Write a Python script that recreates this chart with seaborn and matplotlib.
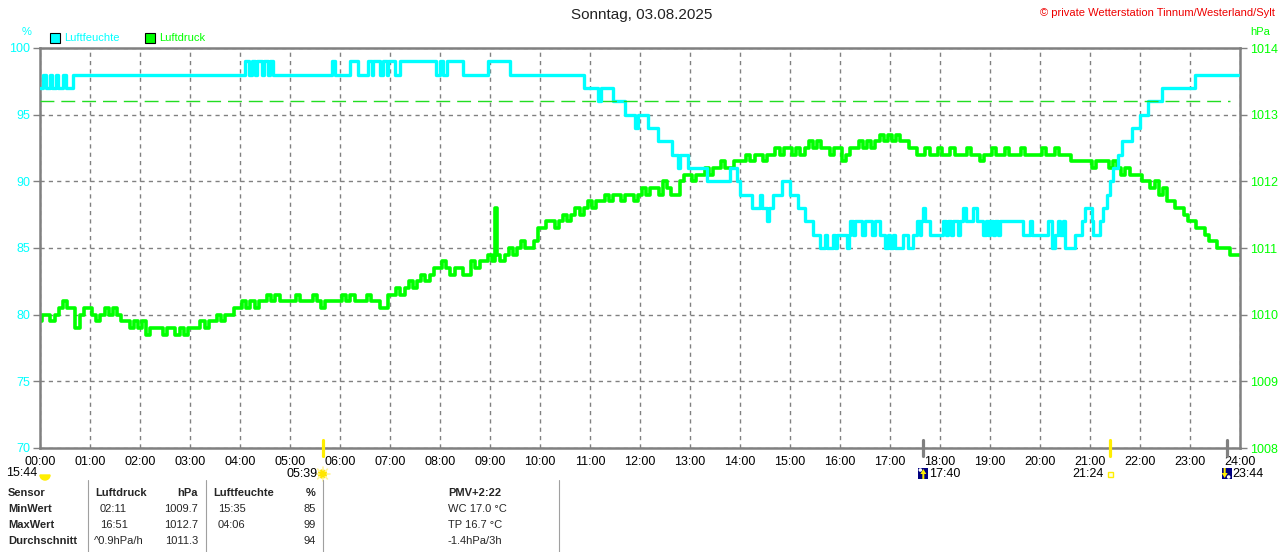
import math
import matplotlib
matplotlib.use("Agg")
import matplotlib.pyplot as plt
import seaborn as sns
import pandas as pd
from matplotlib.patches import Rectangle, Circle, Wedge, Polygon

# ---------------- data ----------------
title = "Sonntag, 03.08.2025"
copyright_txt = "\u00a9 private Wetterstation Tinnum/Westerland/Sylt"

# relative humidity (%) - step series: change points in minutes after midnight
hum_minutes = [0, 4, 7, 12, 14, 19, 22, 28, 31, 40,
               246, 251, 254, 258, 260, 266, 269, 274, 276, 280,
               350, 354, 372, 382, 394, 398, 400, 408, 412, 416, 418, 426,
               432, 475, 480, 484, 488, 508, 538, 564,
               653, 670, 673, 688, 702, 714, 718, 730, 742, 758, 766, 768, 778,
               800, 828, 836, 840, 854, 864, 866, 872, 875, 880, 890, 900, 910,
               918, 928, 936, 942, 944, 952, 954, 956, 968, 971, 972, 976, 978,
               986, 990, 998, 1002, 1008, 1014, 1018, 1020, 1024, 1026, 1036,
               1042, 1048, 1052, 1056, 1057, 1060, 1062, 1068, 1084, 1087, 1090,
               1093, 1096, 1102, 1104, 1108, 1111, 1120, 1124, 1132, 1135, 1138,
               1140, 1144, 1146, 1150, 1152, 1180, 1188, 1190, 1210, 1214, 1218,
               1222, 1224, 1228, 1230, 1242, 1250, 1254, 1262, 1264, 1272, 1276,
               1280, 1284, 1288, 1294, 1298, 1310, 1320, 1330, 1346, 1386, 1438]
hum_values = [97, 98, 97, 98, 97, 98, 97, 98, 97, 98,
              99, 98, 99, 98, 99, 98, 99, 98, 99, 98,
              99, 98, 99, 98, 99, 98, 99, 98, 99, 98, 99, 98,
              99, 98, 99, 98, 99, 98, 99, 98,
              97, 96, 97, 96, 95, 94, 95, 94, 93, 92, 91, 92, 91,
              90, 91, 90, 89, 88, 89, 88, 87, 88, 89, 90, 89, 88,
              87, 86, 85, 86, 85, 86, 85, 86, 85, 86, 87, 86, 87,
              86, 87, 86, 87, 86, 85, 86, 85, 86, 85, 86,
              85, 86, 87, 86, 87, 88, 87, 86, 87, 86, 87,
              86, 87, 86, 87, 88, 87, 88, 87, 86, 87, 86,
              87, 86, 87, 86, 87, 86, 87, 86, 87, 85, 86,
              87, 86, 87, 85, 86, 87, 88, 87, 86, 87, 88,
              89, 90, 91, 92, 93, 94, 95, 96, 97, 98, 98]

# air pressure (hPa), 5-minute readings (extra reading at 09:08 spike)
press_minutes = list(range(0, 546, 5)) + [548] + list(range(550, 1441, 5))
press_values = [
    1009.9, 1010.0, 1010.0, 1009.9, 1010.0, 1010.1, 1010.2, 1010.1, 1010.1, 1009.8, 1010.0, 1010.1,  # 00
    1010.1, 1010.0, 1009.9, 1010.0, 1010.1, 1010.0, 1010.1, 1010.0, 1009.9, 1009.9, 1009.8, 1009.9,  # 01
    1009.8, 1009.9, 1009.7, 1009.8, 1009.8, 1009.8, 1009.7, 1009.8, 1009.8, 1009.7, 1009.8, 1009.7,  # 02
    1009.8, 1009.8, 1009.8, 1009.9, 1009.8, 1009.9, 1009.9, 1010.0, 1009.9, 1010.0, 1010.0, 1010.1,  # 03
    1010.1, 1010.2, 1010.1, 1010.2, 1010.1, 1010.2, 1010.2, 1010.3, 1010.2, 1010.3, 1010.2, 1010.2,  # 04
    1010.2, 1010.2, 1010.3, 1010.2, 1010.2, 1010.2, 1010.3, 1010.2, 1010.1, 1010.2, 1010.2, 1010.2,  # 05
    1010.2, 1010.3, 1010.2, 1010.3, 1010.2, 1010.2, 1010.2, 1010.3, 1010.2, 1010.2, 1010.1, 1010.1,  # 06
    1010.3, 1010.3, 1010.4, 1010.3, 1010.4, 1010.5, 1010.4, 1010.5, 1010.6, 1010.5, 1010.6, 1010.7,  # 07
    1010.7, 1010.8, 1010.7, 1010.6, 1010.7, 1010.7, 1010.6, 1010.6, 1010.8, 1010.7, 1010.8, 1010.8,  # 08
    1010.9, 1010.8, 1011.6, 1010.9, 1010.8, 1010.9, 1011.0, 1010.9, 1011.0, 1011.1, 1011.0, 1011.0, 1011.1,  # 09
    1011.3, 1011.3, 1011.4, 1011.4, 1011.3, 1011.4, 1011.5, 1011.4, 1011.5, 1011.6, 1011.5, 1011.6,  # 10
    1011.7, 1011.6, 1011.7, 1011.7, 1011.8, 1011.7, 1011.8, 1011.8, 1011.7, 1011.8, 1011.8, 1011.7,  # 11
    1011.8, 1011.9, 1011.8, 1011.9, 1011.9, 1011.8, 1012.0, 1011.9, 1011.8, 1011.8, 1012.0, 1012.1,  # 12
    1012.1, 1012.0, 1012.1, 1012.1, 1012.2, 1012.1, 1012.2, 1012.2, 1012.3, 1012.2, 1012.2, 1012.3,  # 13
    1012.3, 1012.3, 1012.4, 1012.3, 1012.4, 1012.4, 1012.3, 1012.4, 1012.4, 1012.5, 1012.4, 1012.5,  # 14
    1012.5, 1012.4, 1012.5, 1012.4, 1012.5, 1012.6, 1012.5, 1012.6, 1012.5, 1012.5, 1012.4, 1012.5,  # 15
    1012.5, 1012.3, 1012.4, 1012.5, 1012.5, 1012.6, 1012.5, 1012.6, 1012.5, 1012.6, 1012.7, 1012.6,  # 16
    1012.7, 1012.6, 1012.7, 1012.6, 1012.6, 1012.5, 1012.5, 1012.4, 1012.4, 1012.5, 1012.4, 1012.4,  # 17
    1012.5, 1012.4, 1012.4, 1012.5, 1012.4, 1012.4, 1012.4, 1012.5, 1012.4, 1012.4, 1012.3, 1012.4,  # 18
    1012.4, 1012.5, 1012.4, 1012.4, 1012.5, 1012.4, 1012.4, 1012.4, 1012.5, 1012.4, 1012.4, 1012.4,  # 19
    1012.4, 1012.5, 1012.4, 1012.4, 1012.5, 1012.4, 1012.4, 1012.4, 1012.3, 1012.3, 1012.3, 1012.3,  # 20
    1012.3, 1012.2, 1012.3, 1012.3, 1012.3, 1012.2, 1012.3, 1012.2, 1012.1, 1012.2, 1012.1, 1012.1,  # 21
    1012.1, 1012.0, 1012.0, 1011.9, 1012.0, 1011.8, 1011.9, 1011.7, 1011.7, 1011.6, 1011.6, 1011.5,  # 22
    1011.4, 1011.4, 1011.3, 1011.3, 1011.2, 1011.1, 1011.1, 1011.0, 1011.0, 1011.0, 1010.9, 1010.9,  # 23
    1010.9]

ref_level = 96          # dashed reference line (% scale)
ref_end_min = 1428

hum_ticks = [70, 75, 80, 85, 90, 95, 100]
press_ticks = [1008, 1009, 1010, 1011, 1012, 1013, 1014]
hour_labels = ["%02d:00" % h for h in range(25)]

# sun / moon events (minutes)
sunrise, sunset = 339, 1284        # 05:39, 21:24
moonrise, moonset = 1060, 1424     # 17:40, 23:44
day_length = "15:44"

table_header = ["Sensor", "Luftdruck", "hPa", "Luftfeuchte", "%", "PMV+2:22"]
row_names = ["MinWert", "MaxWert", "Durchschnitt"]
press_times = ["02:11", "16:51", "^0.9hPa/h"]
press_stats = ["1009.7", "1012.7", "1011.3"]
hum_times = ["15:35", "04:06", ""]
hum_stats = ["85", "99", "94"]
extra_info = ["WC 17.0 \u00b0C", "TP 16.7 \u00b0C", "-1.4hPa/3h"]

# ---------------- style ----------------
sns.set_style("white")
plt.rcParams['font.family'] = ['Liberation Sans', 'DejaVu Sans']

CYAN = "#00FFFF"
GREEN = "#00FF00"
GRAY = "#808080"
W, H = 1280, 552

fig = plt.figure(figsize=(W / 100, H / 100), dpi=100)
ax = fig.add_axes([40 / W, 1 - 448 / H, 1200 / W, 400 / H])   # pressure (right axis)
axh = ax.twinx()                                              # humidity (left axis)

df_p = pd.DataFrame({"t": [m / 60 for m in press_minutes], "p": press_values})
df_h = pd.DataFrame({"t": [m / 60 for m in hum_minutes], "h": hum_values})

sns.lineplot(data=df_p, x="t", y="p", ax=ax, color=GREEN, linewidth=2.6,
             estimator=None, legend=False, drawstyle="steps-mid")
sns.lineplot(data=df_h, x="t", y="h", ax=axh, color=CYAN, linewidth=2.4,
             estimator=None, legend=False, drawstyle="steps-post")
axh.hlines(ref_level, 0, ref_end_min / 60, colors="#22DD22", linewidth=1.0,
           linestyles=(0, (10, 5)))

ax.set_xlim(0, 24)
ax.set_ylim(1008, 1014)
axh.set_ylim(70, 100)
ax.set_xticks(range(25))
ax.set_xticklabels(hour_labels, fontsize=9, color="black")
ax.set_yticks(press_ticks)
axh.set_yticks(hum_ticks)
ax.set_yticklabels([str(v) for v in press_ticks], fontsize=9, color=GREEN)
axh.set_yticklabels([str(v) for v in hum_ticks], fontsize=9, color=CYAN)
ax.yaxis.tick_right()
axh.yaxis.tick_left()
for a in (ax, axh):
    a.set_xlabel("")
    a.set_ylabel("")
ax.tick_params(axis="x", length=0, pad=6)
ax.tick_params(axis="y", length=5, width=1, color=GRAY, pad=2, right=True, left=False)
axh.tick_params(axis="y", length=5, width=1, color=GRAY, pad=2, left=True, right=False)

ax.grid(True, color=GRAY, linestyle=(0, (3, 3)), linewidth=1.0)
for s in ax.spines.values():
    s.set_color(GRAY)
    s.set_linewidth(1.8)
    s.set_visible(True)
for s in axh.spines.values():
    s.set_visible(False)

# sun / moon markers on bottom axis
for m, col in [(sunrise, "#FFEE00"), (sunset, "#FFEE00"), (moonrise, GRAY), (moonset, GRAY)]:
    axh.plot([m / 60, m / 60], [69.4, 70.6], color=col, linewidth=2.3,
             clip_on=False, zorder=5)

# ---------------- overlay in pixel coords ----------------
ov = fig.add_axes([0, 0, 1, 1])
ov.set_xlim(0, W)
ov.set_ylim(H, 0)
ov.axis("off")
ov.set_zorder(10)
ov.patch.set_visible(False)

ov.text(642, 15, title, ha="center", va="center", fontsize=11, color="#222222")
ov.text(1275, 13, copyright_txt, ha="right", va="center", fontsize=8, color="#EE0000")
ov.text(27, 32, "%", ha="center", va="center", fontsize=8, color=CYAN)
ov.text(1250, 32, "hPa", ha="left", va="center", fontsize=8, color=GREEN)

ov.add_patch(Rectangle((50, 33), 10, 10, facecolor=CYAN, edgecolor="black", lw=0.8))
ov.text(64, 38, "Luftfeuchte", ha="left", va="center", fontsize=8, color=CYAN)
ov.add_patch(Rectangle((145, 33), 10, 10, facecolor=GREEN, edgecolor="black", lw=0.8))
ov.text(159, 38, "Luftdruck", ha="left", va="center", fontsize=8, color=GREEN)


def px(minute):
    return 40 + minute / 60 * 50


ov.text(37, 473, day_length, ha="right", va="center", fontsize=9, color="black")
ov.add_patch(Wedge((45, 475), 5, 0, 180, facecolor="#FFEE00", edgecolor="#FFEE00"))

xs = px(sunrise)
ov.text(xs - 5, 474, "%02d:%02d" % divmod(sunrise, 60), ha="right", va="center",
        fontsize=9, color="black")
for k in range(8):
    a = k * math.pi / 4
    ov.plot([xs + 4 * math.cos(a), xs + 7 * math.cos(a)],
            [474 + 4 * math.sin(a), 474 + 7 * math.sin(a)], color="#FFF59A", lw=1.2)
ov.add_patch(Circle((xs, 474), 4, facecolor="#FFE600", edgecolor="#FFE600"))

xm = px(moonrise)
ov.add_patch(Rectangle((xm - 5, 468), 10, 11, facecolor="#000080", edgecolor="none"))
ov.add_patch(Circle((xm - 3, 470), 1.8, facecolor="white", edgecolor="none"))
ov.add_patch(Polygon([[xm, 469], [xm - 3, 474], [xm - 1, 474], [xm - 1, 479],
                      [xm + 1, 479], [xm + 1, 474], [xm + 3, 474]],
                     facecolor="#FFEE00", edgecolor="none"))
ov.text(xm + 6, 474, "%02d:%02d" % divmod(moonrise, 60), ha="left", va="center",
        fontsize=9, color="black")

xss = px(sunset)
ov.text(xss - 6, 474, "%02d:%02d" % divmod(sunset, 60), ha="right", va="center",
        fontsize=9, color="black")
ov.add_patch(Rectangle((xss - 2.5, 472), 5, 5, facecolor="#FFFFE0", edgecolor="#FFEE00", lw=1))

xmo = px(moonset)
ov.add_patch(Rectangle((xmo - 5, 468), 10, 11, facecolor="#000080", edgecolor="none"))
ov.add_patch(Circle((xmo + 2, 477), 1.8, facecolor="white", edgecolor="none"))
ov.add_patch(Polygon([[xmo - 2, 478], [xmo - 5, 473], [xmo - 3, 473], [xmo - 3, 468],
                      [xmo - 1, 468], [xmo - 1, 473], [xmo + 1, 473]],
                     facecolor="#FFEE00", edgecolor="none"))
ov.text(xmo + 6, 474, "%02d:%02d" % divmod(moonset, 60), ha="left", va="center",
        fontsize=9, color="black")

# statistics table
for xl in (88, 206, 323, 559):
    ov.plot([xl, xl], [480, 552], color="#A0A0A0", lw=0.8)
rows_y = [493, 509.5, 525.5, 541.5]
fs = 8
ov.text(8, rows_y[0], table_header[0], ha="left", va="center", fontsize=fs, weight="bold")
ov.text(95, rows_y[0], table_header[1], ha="left", va="center", fontsize=fs, weight="bold")
ov.text(198, rows_y[0], table_header[2], ha="right", va="center", fontsize=fs, weight="bold")
ov.text(213, rows_y[0], table_header[3], ha="left", va="center", fontsize=fs, weight="bold")
ov.text(316, rows_y[0], table_header[4], ha="right", va="center", fontsize=fs, weight="bold")
ov.text(448, rows_y[0], table_header[5], ha="left", va="center", fontsize=fs, weight="bold")
for i in range(3):
    y = rows_y[i + 1]
    ov.text(8, y, row_names[i], ha="left", va="center", fontsize=fs, weight="bold")
    ov.text(94 if i == 2 else 100, y, press_times[i], ha="left", va="center", fontsize=fs)
    ov.text(198, y, press_stats[i], ha="right", va="center", fontsize=fs)
    ov.text(218, y, hum_times[i], ha="left", va="center", fontsize=fs)
    ov.text(316, y, hum_stats[i], ha="right", va="center", fontsize=fs)
    ov.text(448, y, extra_info[i], ha="left", va="center", fontsize=fs)

fig.savefig("out.png", dpi=100)
